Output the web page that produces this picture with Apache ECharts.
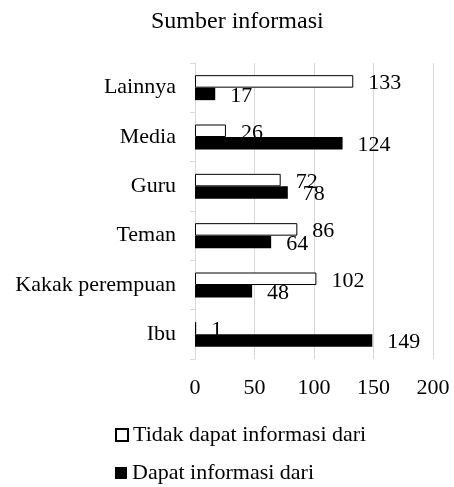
<!DOCTYPE html>
<html>
<head>
<meta charset="utf-8">
<script src="https://cdn.jsdelivr.net/npm/echarts@6/dist/echarts.min.js"></script>
<style>
  html, body { margin: 0; padding: 0; background: #fff; }
  #main { width: 454px; height: 487px; }
</style>
</head>
<body>
<div id="main"></div>
<script>
// categories bottom -> top, as the y axis counts them
const categories = ['Ibu', 'Kakak perempuan', 'Teman', 'Guru', 'Media', 'Lainnya'];
const tidakDapat = [1, 102, 86, 72, 26, 133];
const dapat = [149, 48, 64, 78, 124, 17];
const xTicks = [0, 50, 100, 150, 200];
const seriesNames = ['Tidak dapat informasi dari', 'Dapat informasi dari'];

const FONT = "'Liberation Serif', 'DejaVu Serif', serif";

const labelStyle = {
  show: true,
  position: 'right',
  distance: 15,
  offset: [0, 2],
  color: '#000',
  fontFamily: FONT,
  fontSize: 22
};

function legendAt (name, top) {
  return {
    orient: 'vertical',
    left: 115,
    top: top,
    padding: 0,
    itemWidth: 12,
    itemHeight: 12,
    itemGap: 4,
    icon: 'rect',
    textStyle: { fontFamily: FONT, fontSize: 22, color: '#000' },
    data: [name]
  };
}

const chart = echarts.init(document.getElementById('main'));
chart.setOption({
  animation: false,
  backgroundColor: '#fff',
  title: {
    text: 'Sumber informasi',
    left: 151,
    top: 10,
    padding: 0,
    textStyle: { fontFamily: FONT, fontSize: 24, fontWeight: 'normal', color: '#000' }
  },
  legend: [legendAt(seriesNames[0], 424), legendAt(seriesNames[1], 462)],
  grid: { left: 195, right: 21, top: 63, bottom: 128 },
  xAxis: {
    type: 'value',
    min: xTicks[0],
    max: xTicks[xTicks.length - 1],
    interval: 50,
    axisLine: { show: false },
    axisTick: { show: false },
    splitLine: { lineStyle: { color: '#d9d9d9', width: 1 } },
    axisLabel: { margin: 18, color: '#000', fontFamily: FONT, fontSize: 22 }
  },
  yAxis: {
    type: 'category',
    data: categories,
    axisLine: { lineStyle: { color: '#d9d9d9' } },
    axisTick: { show: true, length: 5, lineStyle: { color: '#d9d9d9' } },
    axisLabel: { margin: 19, color: '#000', fontFamily: FONT, fontSize: 22 }
  },
  series: [{
    name: seriesNames[0],
    type: 'bar',
    barWidth: 12.5,
    barGap: '0%',
    itemStyle: { color: '#fff', borderColor: '#000', borderWidth: 1 },
    label: labelStyle,
    data: tidakDapat
  }, {
    name: seriesNames[1],
    type: 'bar',
    barWidth: 12.5,
    barGap: '0%',
    itemStyle: { color: '#000' },
    label: labelStyle,
    data: dapat
  }]
});
</script>
</body>
</html>
